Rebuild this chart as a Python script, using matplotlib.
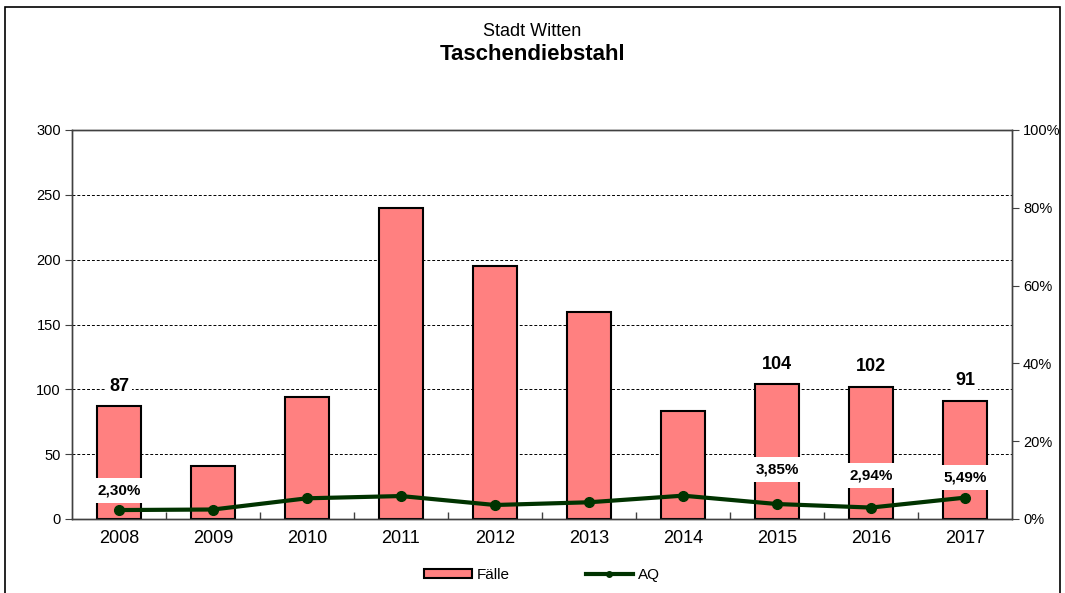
import matplotlib
matplotlib.use("Agg")
import matplotlib.pyplot as plt
from matplotlib.lines import Line2D
from matplotlib.patches import Patch, Rectangle
import numpy as np

plt.rcParams['font.family'] = ['Liberation Sans', 'DejaVu Sans']

years = ['2008', '2009', '2010', '2011', '2012', '2013', '2014', '2015', '2016', '2017']
faelle = [87, 41, 94, 240, 195, 160, 83, 104, 102, 91]
aq = [2.30, 2.44, 5.32, 5.90, 3.60, 4.30, 6.00, 3.85, 2.94, 5.49]
labeled = ['2008', '2015', '2016', '2017']
aq_label_offset_pt = [14, 24.5, 23, 14.5]
yticks_left = [0, 50, 100, 150, 200, 250, 300]
yticks_right = [0, 20, 40, 60, 80, 100]

fig = plt.figure(figsize=(10.65, 5.93), dpi=100)
fig.patches.append(Rectangle((5/1065, -0.01), 1055/1065, 1 - 7/593 + 0.01,
                             transform=fig.transFigure, fill=False,
                             edgecolor='black', linewidth=1.2))

ax = fig.add_axes([72/1065, 1 - 519/593, 940/1065, 389/593])
x = np.arange(len(years))
ax.bar(x, faelle, width=0.46, color='#FF8080', edgecolor='black', linewidth=1.5, zorder=3)
ax.set_xlim(-0.5, len(years) - 0.5)
ax.set_ylim(0, 300)
ax.set_yticks(yticks_left)
ax.set_yticklabels([str(v) for v in yticks_left], fontsize=10.5)
ax.set_xticks(x)
ax.set_xticklabels(years, fontsize=13)
ax.tick_params(axis='x', length=0, pad=8)
ax.set_xticks(np.arange(0.5, len(years) - 0.5, 1), minor=True)
ax.tick_params(axis='x', which='minor', length=5, direction='in', width=1, color='#404040')
ax.tick_params(axis='y', length=5, direction='out', color='#404040', pad=3)
for v in yticks_left[1:-1]:
    ax.axhline(v, color='black', linestyle=(0, (3, 2)), linewidth=0.7, zorder=1)
for s in ax.spines.values():
    s.set_color('#404040')
    s.set_linewidth(1.0)

ax2 = ax.twinx()
ax2.plot(x, aq, color='#003300', linewidth=3, marker='o', markersize=7, zorder=5)
ax2.set_ylim(0, 100)
ax2.set_yticks(yticks_right)
ax2.set_yticklabels([f'{v}%' for v in yticks_right], fontsize=10.5)
ax2.tick_params(axis='y', length=5, direction='out', color='#404040', pad=3)
for s in ax2.spines.values():
    s.set_color('#404040')
    s.set_linewidth(1.0)

k = 0
for i, y in enumerate(years):
    if y in labeled:
        ax.annotate(str(faelle[i]), (x[i], faelle[i]), xytext=(0, 14.5),
                    textcoords='offset points', ha='center', va='center',
                    fontsize=13, fontweight='bold', zorder=6,
                    bbox=dict(facecolor='white', edgecolor='none', pad=2))
        ax2.annotate(f'{aq[i]:.2f}%'.replace('.', ','), (x[i], aq[i]),
                     xytext=(0, aq_label_offset_pt[k]), textcoords='offset points',
                     ha='center', va='center', fontsize=11, fontweight='bold', zorder=6,
                     bbox=dict(facecolor='white', edgecolor='none', pad=4))
        k += 1

fig.text(0.5, 1 - 32/593, 'Stadt Witten', ha='center', va='center', fontsize=13)
fig.text(0.5, 1 - 55/593, 'Taschendiebstahl', ha='center', va='center', fontsize=16, fontweight='bold')

handles = [Patch(facecolor='#FF8080', edgecolor='black', linewidth=1.5, label='Fälle'),
           Line2D([0], [0], color='#003300', linewidth=3, marker='o', markersize=4, label='AQ')]
fig.legend(handles=handles, loc='center', bbox_to_anchor=(542/1065, 1 - 575/593), ncol=2,
           frameon=False, fontsize=11, columnspacing=5.0, handlelength=3.1,
           handleheight=0.6, handletextpad=0.3)

fig.savefig('out.png', dpi=100)
